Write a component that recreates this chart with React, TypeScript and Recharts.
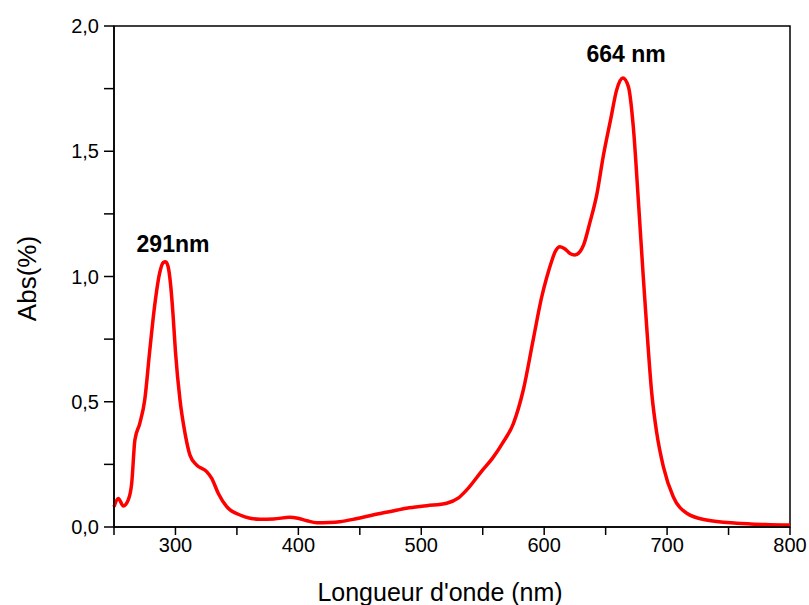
import React from 'react';
import { LineChart, Line, XAxis, YAxis, ReferenceArea, ReferenceDot } from 'recharts';

const wavelengths = [
  250, 253.5, 257.6, 261.6, 264.4, 267, 271, 275, 279, 283, 287, 290, 292, 294, 296, 298, 300,
  303.7, 307.8, 311.8, 317.3, 325.4, 329.5, 334.9, 341.7, 352.5, 360.7, 368.7, 380, 393, 399.6,
  407, 415, 425, 433.7, 447, 460.6, 475, 488, 504.5, 520.7, 530, 537, 550, 558, 566, 575, 583,
  591, 598, 602, 606, 609, 612.9, 617, 621, 625, 629, 632, 637, 643, 648, 654, 659, 664, 668.5, 672.5, 676.6, 680.7,
  683.4, 687.5, 691.6, 697, 705, 716, 732, 756.6, 780, 800,
];
const absorbance = [
  0.081, 0.114, 0.084, 0.108, 0.174, 0.347, 0.414, 0.507, 0.7, 0.88, 1.01, 1.055, 1.059, 1.04, 0.97, 0.85, 0.7,
  0.507, 0.374, 0.287, 0.247, 0.221, 0.194, 0.134, 0.081, 0.048, 0.035, 0.031, 0.032, 0.039, 0.035,
  0.025, 0.017, 0.018, 0.021, 0.033, 0.048, 0.062, 0.075, 0.085, 0.095, 0.115, 0.148, 0.228, 0.275, 0.334, 0.414, 0.547,
  0.746, 0.919, 0.995, 1.06, 1.1, 1.119, 1.11, 1.092, 1.086, 1.098, 1.125, 1.212, 1.332, 1.478, 1.625, 1.745, 1.792, 1.758, 1.598, 1.305, 0.993,
  0.8, 0.535, 0.375, 0.24, 0.121, 0.055, 0.028, 0.015, 0.01, 0.008,
];

const xTicks = [250, 300, 350, 400, 450, 500, 550, 600, 650, 700, 750, 800];
const yTicks = [0, 0.25, 0.5, 0.75, 1, 1.25, 1.5, 1.75, 2];

const peakLabels = ['291nm', '664 nm'];
const peakLabelX = [298, 666.6];
const peakLabelY = [1.098, 1.856];

const data = wavelengths.map((w, i) => ({ w, abs: absorbance[i] }));

const FONT = '"Liberation Sans", Arial, sans-serif';

const fmtX = (v: number) => (v % 100 === 0 ? String(v) : '');
const fmtY = (v: number) => (Math.abs((v * 2) % 1) < 1e-9 ? v.toFixed(1).replace('.', ',') : '');

export default function App() {
  return (
    <div style={{ position: 'absolute', left: 0, top: 0, background: '#fff' }}>
      <LineChart width={809} height={605} data={data} margin={{ top: 26, right: 19, left: 0, bottom: 0 }}>
        <XAxis
          dataKey="w"
          type="number"
          domain={[250, 800]}
          ticks={xTicks}
          interval={0}
          tickFormatter={fmtX}
          height={78}
          tickSize={8}
          tickMargin={3}
          axisLine={{ stroke: '#000', strokeWidth: 1.5 }}
          tickLine={{ stroke: '#000', strokeWidth: 1.5 }}
          tick={{ fill: '#000', fontSize: 20, fontFamily: FONT }}
          label={{ value: "Longueur d'onde (nm)", position: 'insideBottom', offset: 4, dx: -12, style: { fill: '#000', fontSize: 25, fontFamily: FONT } }}
        />
        <YAxis
          type="number"
          domain={[0, 2]}
          ticks={yTicks}
          interval={0}
          tickFormatter={fmtY}
          width={114}
          tickSize={10}
          tickMargin={5}
          axisLine={{ stroke: '#000', strokeWidth: 1.5 }}
          tickLine={{ stroke: '#000', strokeWidth: 1.5 }}
          tick={{ fill: '#000', fontSize: 20, fontFamily: FONT }}
          label={{ value: 'Abs(%)', angle: -90, position: 'insideLeft', offset: 27, dy: 2, style: { textAnchor: 'middle', fill: '#000', fontSize: 26, fontFamily: FONT } }}
        />
        <ReferenceArea x1={250} x2={800} y1={0} y2={2} fill="none" stroke="#000" strokeWidth={1.5} />
        <Line type="monotone" dataKey="abs" stroke="#ff0000" strokeWidth={3.5} dot={false} isAnimationActive={false} />
        {peakLabels.map((t, i) => (
          <ReferenceDot
            key={t}
            x={peakLabelX[i]}
            y={peakLabelY[i]}
            r={0}
            shape={(p: any) => (
              <text x={p.cx} y={p.cy} textAnchor="middle" fontFamily={FONT} fontWeight="bold" fontSize={23} fill="#000">
                {t}
              </text>
            )}
          />
        ))}
      </LineChart>
    </div>
  );
}
